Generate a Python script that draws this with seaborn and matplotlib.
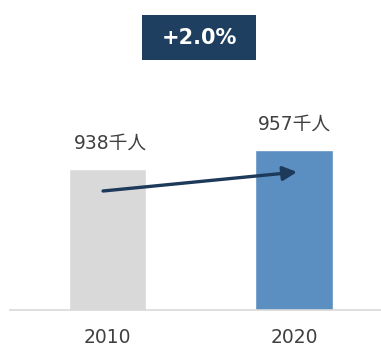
import matplotlib
matplotlib.use("Agg")
import matplotlib.pyplot as plt
from matplotlib.patches import Rectangle
import seaborn as sns
import pandas as pd

# Population (thousand people) by year
years = ["2010", "2020"]
population = [938, 957]
value_labels = ["938千人", "957千人"]
change_label = "+2.0%"
bar_colors = ["#d9d9d9", "#5b8fc2"]

sns.set_theme(style="white")
plt.rcParams["font.family"] = ["DejaVu Sans", "Noto Sans CJK JP"]

W, H, DPI = 381, 347, 100
fig = plt.figure(figsize=(W / DPI, H / DPI), dpi=DPI)
fig.patch.set_facecolor("white")

# axes placed in pixel units: baseline at y=310, spanning x=10..381
left_px, right_px, base_px = 10, 381, 310
ax = fig.add_axes([left_px / W, (H - base_px) / H, (right_px - left_px) / W, base_px / H])

df = pd.DataFrame({"year": years, "population": population})
sns.barplot(data=df, x="year", y="population", hue="year", palette=bar_colors,
            width=0.415, legend=False, ax=ax, saturation=1)

ax.set_xlim(-0.523, 1.466)
ax.set_ylim(797, 1107)

for s in ["top", "right", "left"]:
    ax.spines[s].set_visible(False)
ax.spines["bottom"].set_color("#d9d9d9")
ax.spines["bottom"].set_linewidth(1.2)
ax.set_yticks([])
ax.set_xlabel("")
ax.set_ylabel("")
ax.tick_params(axis="x", length=0, pad=13, labelsize=13.5, labelcolor="#404040")
ax.set_facecolor("white")

# value labels above bars
for i, (v, lab) in enumerate(zip(population, value_labels)):
    ax.annotate(lab, xy=(i, v), xytext=(2 if i == 0 else 0, 12),
                textcoords="offset points", ha="center", va="bottom",
                fontsize=13.5, color="#404040")

# growth arrow between the bars
arrow_drop = 22
ax.annotate("", xy=(1.016, population[1] - arrow_drop),
            xytext=(-0.024, population[0] - arrow_drop),
            arrowprops=dict(arrowstyle="-|>,head_length=0.7,head_width=0.35",
                            color="#1e3a5a", lw=2.4, shrinkA=0, shrinkB=0))

# change badge
bx0, by0, bx1, by1 = 142, 15, 256, 60
fig.patches.append(Rectangle((bx0 / W, 1 - by1 / H), (bx1 - bx0) / W, (by1 - by0) / H,
                             transform=fig.transFigure, facecolor="#1e3f60",
                             edgecolor="none"))
fig.text((bx0 + bx1) / 2 / W, 1 - (by0 + by1) / 2 / H, change_label,
         ha="center", va="center", color="white", fontsize=15, fontweight="bold")

fig.savefig("out.png", dpi=DPI, facecolor="white")
